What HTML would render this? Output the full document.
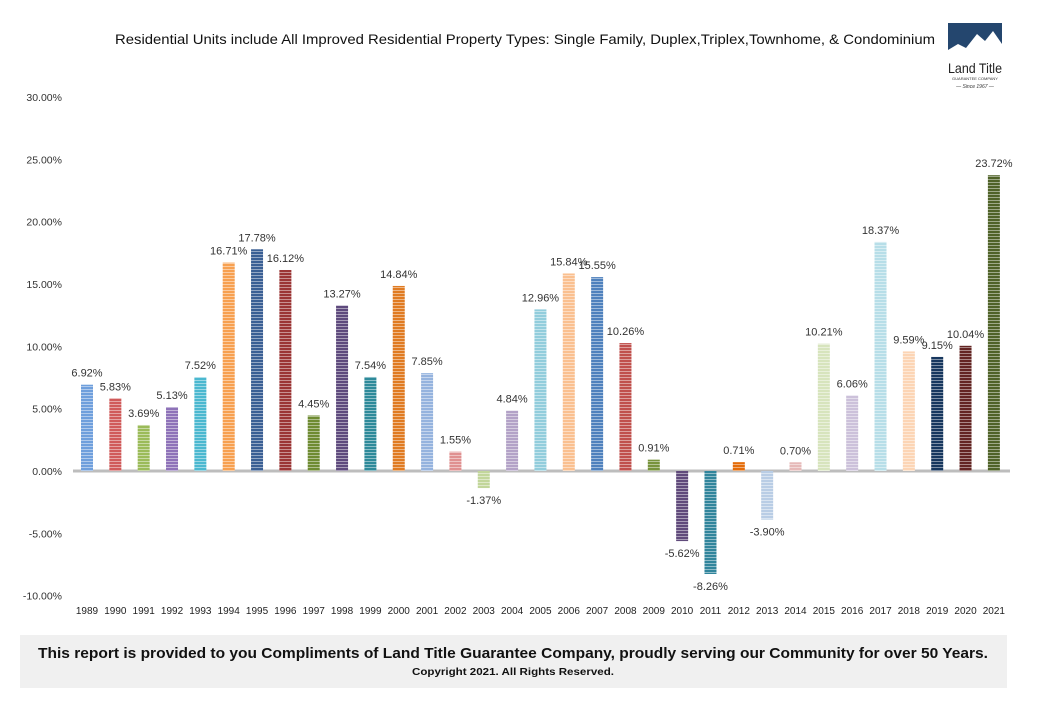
<!DOCTYPE html>
<html><head><meta charset="utf-8"><style>
body{margin:0;background:#fff;width:1049px;height:712px;overflow:hidden;font-family:"Liberation Sans",sans-serif}
svg{position:absolute;left:0;top:0}
</style></head><body>
<svg id="c" width="1049" height="712">
<defs id="defs"></defs>
<text x="115" y="44" font-size="14" fill="#111" textLength="820" lengthAdjust="spacingAndGlyphs">Residential Units include All Improved Residential Property Types: Single Family, Duplex,Triplex,Townhome, &amp; Condominium</text>
<g>
<rect x="948" y="23" width="54" height="35" fill="#24466e"/>
<polygon points="948,58 948,50 958,44 966,48 977,34 985,41 993,31 1002,44 1002,58" fill="#fff"/>
<text x="975" y="73" text-anchor="middle" font-size="14" fill="#222" textLength="54" lengthAdjust="spacingAndGlyphs">Land Title</text>
<text x="975" y="80" text-anchor="middle" font-size="4" fill="#333">GUARANTEE COMPANY</text>
<text x="975" y="88" text-anchor="middle" font-size="5" font-style="italic" fill="#333">— Since 1967 —</text>
</g>
<g id="grid"></g>
<g id="bars"></g>
<g id="labels"></g>
<rect x="20" y="635" width="987" height="53" fill="#f0f0f0"/>
<text x="38" y="658" font-size="15" font-weight="bold" fill="#111" textLength="950" lengthAdjust="spacingAndGlyphs">This report is provided to you Compliments of Land Title Guarantee Company, proudly serving our Community for  over 50 Years.</text>
<text x="412" y="675" font-size="10" font-weight="bold" fill="#111" textLength="202" lengthAdjust="spacingAndGlyphs">Copyright 2021.  All Rights Reserved.</text>
</svg>
<script>
const years=[1989,1990,1991,1992,1993,1994,1995,1996,1997,1998,1999,2000,2001,2002,2003,2004,2005,2006,2007,2008,2009,2010,2011,2012,2013,2014,2015,2016,2017,2018,2019,2020,2021];
const values=[6.92,5.83,3.69,5.13,7.52,16.71,17.78,16.12,4.45,13.27,7.54,14.84,7.85,1.55,-1.37,4.84,12.96,15.84,15.55,10.26,0.91,-5.62,-8.26,0.71,-3.90,0.70,10.21,6.06,18.37,9.59,9.15,10.04,23.72];
const yTicks=[30,25,20,15,10,5,0,-5,-10];
const colors=["#6f9fdc","#d05a5a","#9bbb59","#8e72b8","#4bb8d0","#f7a050","#3a5f94","#9b3535","#6e8b32","#5e4a7d","#2e8a9a","#e07b22","#95b3de","#e09090","#c2d69b","#b3a2c7","#92cddc","#fac090","#4f81bd","#c0504d","#77933c","#604a7b","#31859c","#e46c0a","#b9cde5","#e6b9b8","#d7e4bd","#ccc1da","#b7dee8","#fcd5b5","#17375e","#632523","#4f6228"];
const NS="http://www.w3.org/2000/svg";
const y=v=>471-v*12.47;
const x=i=>87+i*28.34;
function mk(t,a,p){const e=document.createElementNS(NS,t);for(const k in a)e.setAttribute(k,a[k]);p.appendChild(e);return e;}
const defs=document.getElementById('defs'),grid=document.getElementById('grid'),bars=document.getElementById('bars'),labels=document.getElementById('labels');
yTicks.forEach(t=>{
 const tx=mk('text',{x:62,y:y(t)+4,'text-anchor':'end','font-size':10.5,fill:'#333'},grid);
 tx.textContent=t.toFixed(2)+'%';
 
 
});
const ax=mk('line',{x1:73,x2:1010,y1:y(0),y2:y(0),stroke:'#bdbdbd','stroke-width':3},grid);


values.forEach((v,i)=>{
 const p=mk('pattern',{id:'p'+i,width:4,height:3,patternUnits:'userSpaceOnUse'},defs);
 mk('rect',{width:4,height:3,fill:colors[i]},p);
 mk('rect',{width:4,height:1,y:2,fill:'#fff','fill-opacity':0.45},p);
 const top=Math.min(y(v),y(0)),h=Math.abs(y(v)-y(0));
 const r=mk('rect',{x:x(i)-6,y:top,width:12,height:h,fill:'url(#p'+i+')'},bars);
 
 
 const l=mk('text',{x:x(i),y:v>=0?y(v)-8:y(v)+16,'text-anchor':'middle','font-size':11,fill:'#333'},labels);
 l.textContent=v.toFixed(2)+'%';
 
 
 const yl=mk('text',{x:x(i),y:614,'text-anchor':'middle','font-size':10,fill:'#222'},labels);
 yl.textContent=years[i];
 
 
});
</script>
</body></html>
